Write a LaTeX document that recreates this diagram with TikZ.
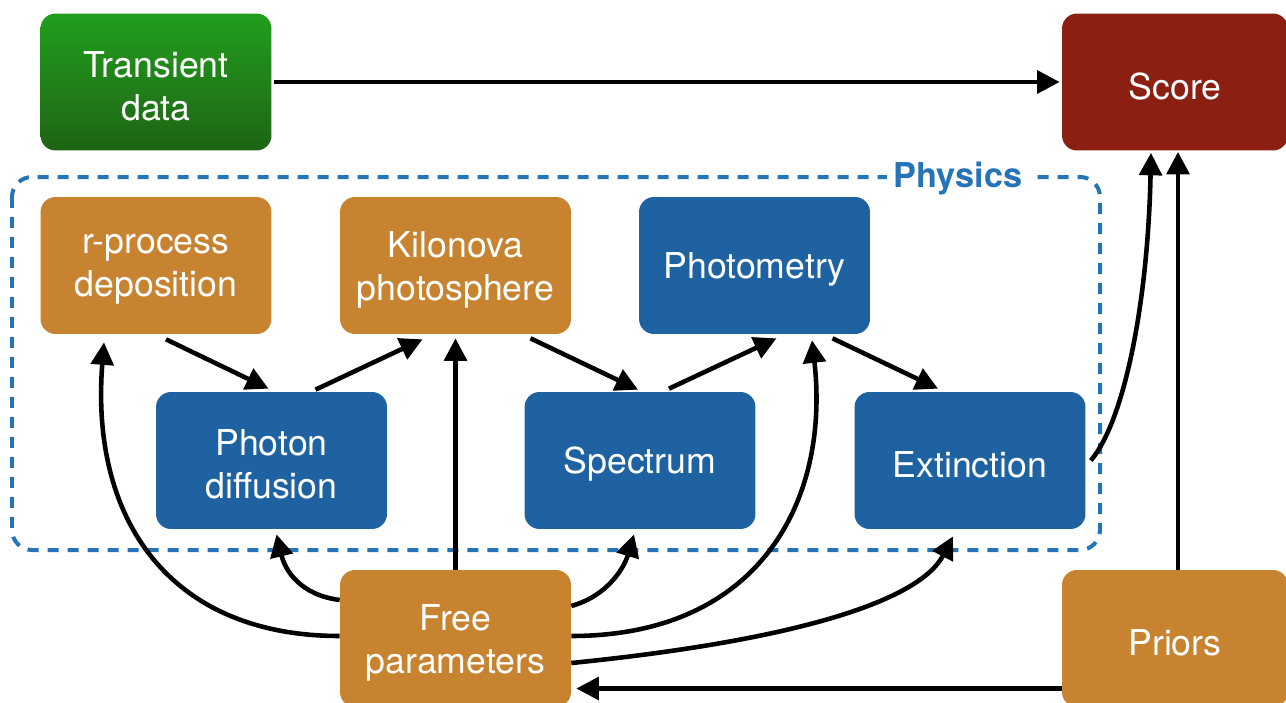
\documentclass[tikz,border=0pt]{standalone}
\usepackage{fontspec}
\setmainfont{TeX Gyre Heros}
\usetikzlibrary{arrows.meta}
\definecolor{ochre}{HTML}{C7832F}
\definecolor{boxblue}{HTML}{1F62A1}
\definecolor{dashblue}{HTML}{2574B7}
\definecolor{scorered}{HTML}{8A1F12}
\definecolor{greentop}{HTML}{229E1D}
\definecolor{greenbot}{HTML}{1E6414}
\tikzset{
  box/.style={rounded corners=0.3cm, minimum width=4.62cm, minimum height=2.74cm, inner sep=0pt},
  lbl/.style={text=white, align=center, inner sep=0pt, yshift=-0.08cm,
    font=\fontsize{20.3}{24.5}\selectfont},
  obox/.style={box, fill=ochre},
  bbox/.style={box, fill=boxblue},
  arr/.style={line width=2.6pt, -{Triangle[length=0.45cm,width=0.45cm]}},
  dashbox/.style={draw=dashblue, line width=0.08cm, dash pattern=on 0.22cm off 0.18cm, rounded corners=0.4cm}
}
\begin{document}
\begin{tikzpicture}[x=0.02cm,y=-0.02cm]
\useasboundingbox (0,0) rectangle (1286,703);
% physics frame
\draw[dashbox] (12,177) rectangle (1100,550);
\node[fill=white, inner xsep=4pt, inner ysep=1pt, text=dashblue, font=\bfseries\fontsize{19.5}{24}\selectfont] (physlbl) at (958,178) {Physics};
% nodes
\node[box, top color=greentop, bottom color=greenbot, label={[lbl]center:{Transient\\data}}] (td) at (156,82) {};
\node[box, fill=scorered, minimum width=4.52cm, label={[lbl]center:{Score}}] (score) at (1175,82) {};
\node[obox, label={[lbl]center:{r-process\\deposition}}] (rp) at (156,265.5) {};
\node[obox, label={[lbl]center:{Kilonova\\photosphere}}] (kp) at (455.5,265.5) {};
\node[bbox, label={[lbl]center:{Photometry}}] (ph) at (754.5,265.5) {};
\node[bbox, label={[lbl]center:{Photon\\diffusion}}] (pd) at (271.5,460.5) {};
\node[bbox, label={[lbl]center:{Spectrum}}] (sp) at (640,460.5) {};
\node[bbox, label={[lbl]center:{Extinction}}] (ex) at (970,460.5) {};
\node[obox, label={[lbl]center:{Free\\parameters}}] (fp) at (455.5,638.5) {};
\node[obox, minimum width=4.52cm, label={[lbl]center:{Priors}}] (pr) at (1175,638.5) {};
% connectors
\draw[arr] ([shift={(2,0)}]td.east) -- ([shift={(-2,0)}]score.west);
\draw[arr] ([shift={(10,5)}]rp.south) -- ([shift={(-3,-3)}]pd.north);
\draw[arr] ([shift={(44,-2)}]pd.north) -- ([shift={(-33,5)}]kp.south);
\draw[arr] ([shift={(75,4)}]kp.south) -- ([shift={(-2,-2)}]sp.north);
\draw[arr] ([shift={(29,-3)}]sp.north) -- ([shift={(22,4)}]ph.south);
\draw[arr] ([shift={(78,4)}]ph.south) -- ([shift={(-32,-3)}]ex.north);
\draw[arr] (fp.north) -- ([shift={(0,4)}]kp.south);
\draw[arr] ([shift={(0,-2.5)}]fp.west) .. controls (170,636) and (90,520) .. ([shift={(-52,8)}]rp.south);
\draw[arr] ([shift={(0,-38.5)}]fp.west) .. controls (300,595) and (285,570) .. ([shift={(5,5)}]pd.south);
\draw[arr] ([shift={(0,-32.5)}]fp.east) .. controls (610,595) and (625,565) .. ([shift={(-6,5)}]sp.south);
\draw[arr] ([shift={(0,-2.5)}]fp.east) .. controls (760,636) and (830,500) .. ([shift={(57.5,6)}]ph.south);
\draw[arr] ([shift={(0,24.5)}]fp.east) .. controls (800,640) and (920,600) .. ([shift={(-17,7)}]ex.south);
\draw[arr] ([shift={(0,50)}]pr.west) -- ([shift={(5,50)}]fp.east);
\draw[arr] ([shift={(3,0)}]pr.north) -- ([shift={(3,1)}]score.south);
\draw[arr] ([shift={(5,0)}]ex.east) .. controls (1125,420) and (1148,300) .. ([shift={(-24,2)}]score.south);
\end{tikzpicture}
\end{document}
